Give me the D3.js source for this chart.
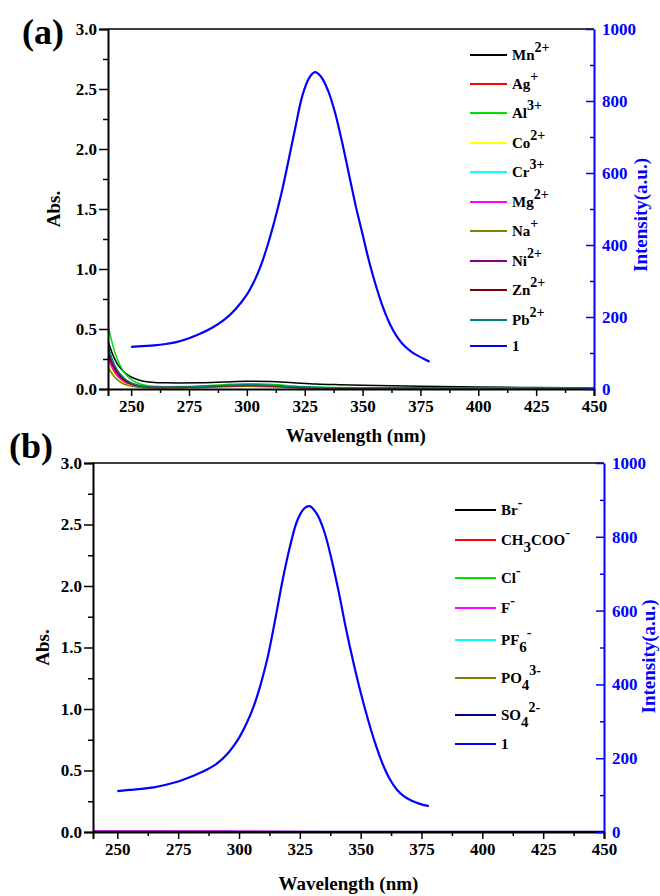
<!DOCTYPE html>
<html>
<head>
<meta charset="utf-8">
<script src="https://cdn.jsdelivr.net/npm/d3@7"></script>
<style>
  html, body { margin: 0; padding: 0; background: #fff; }
</style>
</head>
<body>
<script>
// ---- Panel (a): UV-vis absorbance of 1 with metal ions ----
const absWavelengths = [240, 242, 244, 246, 248, 250, 253, 256, 260, 265, 270, 280, 290, 300, 310, 320, 330, 340, 350, 375, 400, 425, 450];
const absMn = [0.40, 0.29, 0.21, 0.16, 0.125, 0.10, 0.077, 0.063, 0.055, 0.052, 0.051, 0.052, 0.058, 0.065, 0.062, 0.052, 0.042, 0.036, 0.031, 0.022, 0.016, 0.012, 0.010];
const absAg = [0.26, 0.17, 0.11, 0.075, 0.05, 0.035, 0.022, 0.016, 0.013, 0.012, 0.013, 0.018, 0.025, 0.030, 0.026, 0.016, 0.010, 0.008, 0.007, 0.006, 0.005, 0.005, 0.005];
const absAl = [0.53, 0.37, 0.25, 0.17, 0.115, 0.08, 0.048, 0.032, 0.022, 0.019, 0.020, 0.026, 0.036, 0.044, 0.040, 0.026, 0.016, 0.012, 0.010, 0.008, 0.006, 0.005, 0.005];
const absCo = [0.20, 0.13, 0.085, 0.055, 0.038, 0.027, 0.017, 0.012, 0.010, 0.009, 0.010, 0.014, 0.020, 0.025, 0.022, 0.013, 0.008, 0.006, 0.005, 0.004, 0.004, 0.003, 0.003];
const absCr = [0.31, 0.21, 0.14, 0.095, 0.065, 0.045, 0.028, 0.019, 0.015, 0.014, 0.015, 0.020, 0.028, 0.034, 0.030, 0.019, 0.012, 0.010, 0.009, 0.008, 0.007, 0.007, 0.008];
const absMg = [0.27, 0.18, 0.12, 0.08, 0.055, 0.038, 0.024, 0.016, 0.012, 0.011, 0.012, 0.016, 0.022, 0.027, 0.024, 0.015, 0.009, 0.007, 0.006, 0.005, 0.005, 0.004, 0.004];
const absNa = [0.18, 0.12, 0.078, 0.05, 0.034, 0.024, 0.015, 0.011, 0.009, 0.008, 0.009, 0.012, 0.018, 0.022, 0.019, 0.011, 0.007, 0.005, 0.004, 0.004, 0.003, 0.003, 0.003];
const absNi = [0.33, 0.22, 0.15, 0.10, 0.07, 0.048, 0.030, 0.020, 0.015, 0.014, 0.015, 0.020, 0.027, 0.032, 0.028, 0.017, 0.011, 0.009, 0.008, 0.007, 0.006, 0.006, 0.006];
const absZn = [0.30, 0.20, 0.135, 0.09, 0.062, 0.043, 0.027, 0.018, 0.014, 0.013, 0.014, 0.018, 0.025, 0.030, 0.027, 0.016, 0.010, 0.008, 0.007, 0.006, 0.005, 0.005, 0.005];
const absPb = [0.36, 0.24, 0.16, 0.11, 0.075, 0.052, 0.032, 0.021, 0.016, 0.015, 0.016, 0.021, 0.029, 0.035, 0.031, 0.020, 0.013, 0.011, 0.010, 0.009, 0.008, 0.008, 0.008];
const metalLabels = ["Mn^2+", "Ag^+", "Al^3+", "Co^2+", "Cr^3+", "Mg^2+", "Na^+", "Ni^2+", "Zn^2+", "Pb^2+"];
const metalColors = ["#000000", "#ff0000", "#00e000", "#ffff00", "#00ffff", "#ff00ff", "#808000", "#800080", "#800000", "#008080"];

// Emission of 1 (right axis)
const emWavelengthsA = [250, 255, 260, 265, 270, 275, 280, 285, 290, 295, 300, 303, 306, 309, 312, 315, 318, 321, 324, 327, 329.5, 332, 335, 338, 341, 344, 347, 350, 353, 356, 359, 362, 365, 368, 371, 374, 377, 379];
const emIntensityA = [117, 119, 121, 125, 131, 141, 154, 170, 191, 221, 262, 297, 342, 400, 468, 545, 635, 728, 815, 865, 880, 868, 830, 770, 690, 600, 510, 430, 350, 282, 224, 178, 144, 120, 104, 92, 82, 76];

// ---- Panel (b): UV-vis absorbance of 1 with anions ----
const anionWavelengths = [240, 260, 280, 300, 320, 340, 360, 380, 400, 425, 450];
const absBr = [0.003, 0.003, 0.003, 0.002, 0.002, 0.002, 0.002, 0.002, 0.002, 0.002, 0.002];
const absAcO = [0.004, 0.004, 0.003, 0.003, 0.003, 0.003, 0.003, 0.003, 0.003, 0.003, 0.003];
const absCl = [0.002, 0.002, 0.002, 0.002, 0.001, 0.001, 0.001, 0.001, 0.001, 0.001, 0.001];
const absF = [0.008, 0.008, 0.008, 0.007, 0.004, 0.003, 0.003, 0.003, 0.003, 0.002, 0.002];
const absPF6 = [0.002, 0.002, 0.002, 0.002, 0.002, 0.003, 0.003, 0.002, 0.002, 0.002, 0.002];
const absPO4 = [0.001, 0.001, 0.001, 0.001, 0.001, 0.001, 0.001, 0.001, 0.001, 0.001, 0.001];
const absSO4 = [0.004, 0.004, 0.004, 0.004, 0.005, 0.005, 0.005, 0.005, 0.005, 0.005, 0.005];
const anionLabels = ["Br^-", "CH_3COO^-", "Cl^-", "F^-", "PF_6^-", "PO_4^3-", "SO_4^2-"];
const anionColors = ["#000000", "#ff0000", "#00e000", "#ff00ff", "#00ffff", "#808000", "#000080"];

const emWavelengthsB = [250, 255, 260, 265, 270, 275, 280, 285, 290, 295, 300, 303, 306, 309, 312, 315, 318, 321, 324, 327, 329, 332, 335, 338, 341, 344, 347, 350, 353, 356, 359, 362, 365, 368, 371, 374, 378];
const emIntensityB = [111, 114, 117, 121, 128, 137, 149, 163, 181, 210, 255, 293, 340, 402, 480, 580, 685, 775, 845, 878, 883, 862, 815, 740, 650, 550, 460, 378, 305, 240, 185, 143, 114, 96, 85, 77, 70];

// Axis tick values
const xMajorTicks = [250, 275, 300, 325, 350, 375, 400, 425, 450];
const xMinorTicks = [262.5, 287.5, 312.5, 337.5, 362.5, 387.5, 412.5, 437.5];
const absMajorTicks = [0, 0.5, 1.0, 1.5, 2.0, 2.5, 3.0];
const absMinorTicks = [0.25, 0.75, 1.25, 1.75, 2.25, 2.75];
const intMajorTicks = [0, 200, 400, 600, 800, 1000];
const intMinorTicks = [100, 300, 500, 700, 900];

const FONT = "Liberation Serif";
const TICK_FONT = 17;
const emissionColor = "#0000ff";
const W = 660, H = 896;

const svg = d3.select("body").append("svg").attr("width", W).attr("height", H)
  .attr("font-family", FONT).attr("font-weight", "bold");

// Writes "CH_3COO^-" style labels as tspans (subscript after "_", superscript after "^")
function richText(sel, label, size) {
  const parts = label.match(/(_\d+|\^[^_^]+|[^_^]+)/g);
  let shift = 0;
  parts.forEach(p => {
    let txt = p, dy, fs = size;
    if (p[0] === "_") { txt = p.slice(1); dy = 7 - shift; shift = 7; }
    else if (p[0] === "^") { txt = p.slice(1); dy = -8 - shift; shift = -8; fs = size - 1; }
    else { dy = -shift; shift = 0; }
    sel.append("tspan").attr("dy", dy).attr("font-size", fs).text(txt);
  });
}

function styleAxis(sel, color) {
  sel.attr("font-family", FONT).attr("font-weight", "bold");
  sel.selectAll(".domain").attr("stroke", color).attr("stroke-width", 2);
  sel.selectAll(".tick line").attr("stroke", color).attr("stroke-width", 1.5);
  sel.selectAll(".tick text").attr("font-family", FONT).attr("font-weight", "bold")
    .attr("font-size", TICK_FONT).attr("fill", color);
}

function drawPanel(cfg) {
  const g = svg.append("g");
  const x = d3.scaleLinear().domain([240, 450]).range([cfg.left, cfg.right]);
  const yA = d3.scaleLinear().domain([0, 3]).range([cfg.bottom, cfg.top]);
  const yI = d3.scaleLinear().domain([0, 1000]).range([cfg.bottom, cfg.top]);

  const clipId = "clip-" + cfg.id;
  svg.append("clipPath").attr("id", clipId).append("rect")
    .attr("x", cfg.left).attr("y", cfg.top)
    .attr("width", cfg.right - cfg.left).attr("height", cfg.bottom - cfg.top);

  const plot = g.append("g").attr("clip-path", `url(#${clipId})`);

  // absorbance curves
  const absLine = d3.line().x(d => x(d[0])).y(d => yA(d[1])).curve(d3.curveMonotoneX);
  cfg.absSeries.forEach((vals, i) => {
    const pts = cfg.absWl.map((w, k) => [w, vals[k]]);
    plot.append("path").attr("d", absLine(pts)).attr("fill", "none")
      .attr("stroke", cfg.colors[i]).attr("stroke-width", 1.5);
  });
  // emission curve on the right axis
  const emLine = d3.line().x(d => x(d[0])).y(d => yI(d[1])).curve(d3.curveCatmullRom.alpha(0.5));
  const emPts = cfg.emWl.map((w, k) => [w, cfg.emVal[k]]);
  plot.append("path").attr("d", emLine(emPts)).attr("fill", "none")
    .attr("stroke", emissionColor).attr("stroke-width", 2.2);

  // top frame
  g.append("line").attr("x1", cfg.left).attr("x2", cfg.right).attr("y1", cfg.top).attr("y2", cfg.top)
    .attr("stroke", "#000").attr("stroke-width", 1.5);

  // bottom axis
  g.append("g").attr("transform", `translate(0,${cfg.bottom})`)
    .call(d3.axisBottom(x).tickValues(xMajorTicks).tickSize(7).tickPadding(4).tickFormat(d3.format("d")))
    .call(s => styleAxis(s, "#000"));
  g.append("g").attr("transform", `translate(0,${cfg.bottom})`)
    .call(d3.axisBottom(x).tickValues(xMinorTicks).tickSize(4).tickFormat(""))
    .call(a => a.select(".domain").remove())
    .call(s => styleAxis(s, "#000"));

  // left axis
  g.append("g").attr("transform", `translate(${cfg.left},0)`)
    .call(d3.axisLeft(yA).tickValues(absMajorTicks).tickSize(9).tickPadding(2).tickFormat(d3.format(".1f")))
    .call(s => styleAxis(s, "#000"));
  g.append("g").attr("transform", `translate(${cfg.left},0)`)
    .call(d3.axisLeft(yA).tickValues(absMinorTicks).tickSize(5).tickFormat(""))
    .call(a => a.select(".domain").remove())
    .call(s => styleAxis(s, "#000"));

  // right axis: labels outside, ticks pointing into the plot
  g.append("g").attr("transform", `translate(${cfg.right},0)`)
    .call(d3.axisRight(yI).tickValues(intMajorTicks).tickSize(0).tickPadding(8).tickFormat(d3.format("d")))
    .call(s => styleAxis(s, emissionColor));
  g.append("g").attr("transform", `translate(${cfg.right},0)`)
    .call(d3.axisLeft(yI).tickValues(intMajorTicks).tickSize(8).tickFormat(""))
    .call(a => a.select(".domain").remove())
    .call(s => styleAxis(s, emissionColor));
  g.append("g").attr("transform", `translate(${cfg.right},0)`)
    .call(d3.axisLeft(yI).tickValues(intMinorTicks).tickSize(4).tickFormat(""))
    .call(a => a.select(".domain").remove())
    .call(s => styleAxis(s, emissionColor));

  // axis titles
  g.append("text").attr("x", (cfg.left + cfg.right) / 2 + cfg.xTitleShift).attr("y", cfg.xTitleY)
    .attr("text-anchor", "middle").attr("font-size", 19).text("Wavelength (nm)");
  g.append("text").attr("transform", `translate(${cfg.absTitleX},${(cfg.top + cfg.bottom) / 2}) rotate(-90)`)
    .attr("text-anchor", "middle").attr("font-size", 19).text("Abs.");
  g.append("text").attr("transform", `translate(${cfg.intTitleX},${(cfg.top + cfg.bottom) / 2 + cfg.intTitleShift}) rotate(-90)`)
    .attr("text-anchor", "middle").attr("font-size", 19).attr("fill", emissionColor).text("Intensity(a.u.)");

  // panel tag
  g.append("text").attr("x", cfg.tagX).attr("y", cfg.tagY).attr("font-size", 36).text(cfg.tag);

  // legend
  const items = cfg.labels.map((l, i) => ({ label: l, color: cfg.colors[i] }))
    .concat([{ label: "1", color: emissionColor }]);
  items.forEach((it, i) => {
    const y = cfg.legendY[i];
    g.append("line").attr("x1", cfg.legendX).attr("x2", cfg.legendX + cfg.legendLen)
      .attr("y1", y).attr("y2", y).attr("stroke", it.color).attr("stroke-width", 2);
    const t = g.append("text").attr("x", cfg.legendX + cfg.legendLen + 5).attr("y", y + 5)
      .attr("font-size", 15).attr("fill", "#000");
    richText(t, it.label, 15);
  });
}

drawPanel({
  id: "a", tag: "(a)", tagX: 22, tagY: 44,
  left: 108, right: 594, top: 29, bottom: 389,
  xTitleY: 442, xTitleShift: 5, absTitleX: 60, intTitleX: 647, intTitleShift: 6,
  absWl: absWavelengths,
  absSeries: [absMn, absAg, absAl, absCo, absCr, absMg, absNa, absNi, absZn, absPb],
  colors: metalColors, labels: metalLabels,
  emWl: emWavelengthsA, emVal: emIntensityA,
  legendX: 470, legendLen: 37,
  legendY: [55, 84, 113, 143, 172, 202, 231, 261, 290, 320, 346]
});

drawPanel({
  id: "b", tag: "(b)", tagX: 9, tagY: 458,
  left: 93, right: 604, top: 463, bottom: 832,
  xTitleY: 890, xTitleShift: 0, absTitleX: 49, intTitleX: 655, intTitleShift: 9,
  absWl: anionWavelengths,
  absSeries: [absBr, absAcO, absCl, absF, absPF6, absPO4, absSO4],
  colors: anionColors, labels: anionLabels,
  emWl: emWavelengthsB, emVal: emIntensityB,
  legendX: 455, legendLen: 41,
  legendY: [510, 540, 578, 608, 640, 678, 715, 744]
});
</script>
</body>
</html>
